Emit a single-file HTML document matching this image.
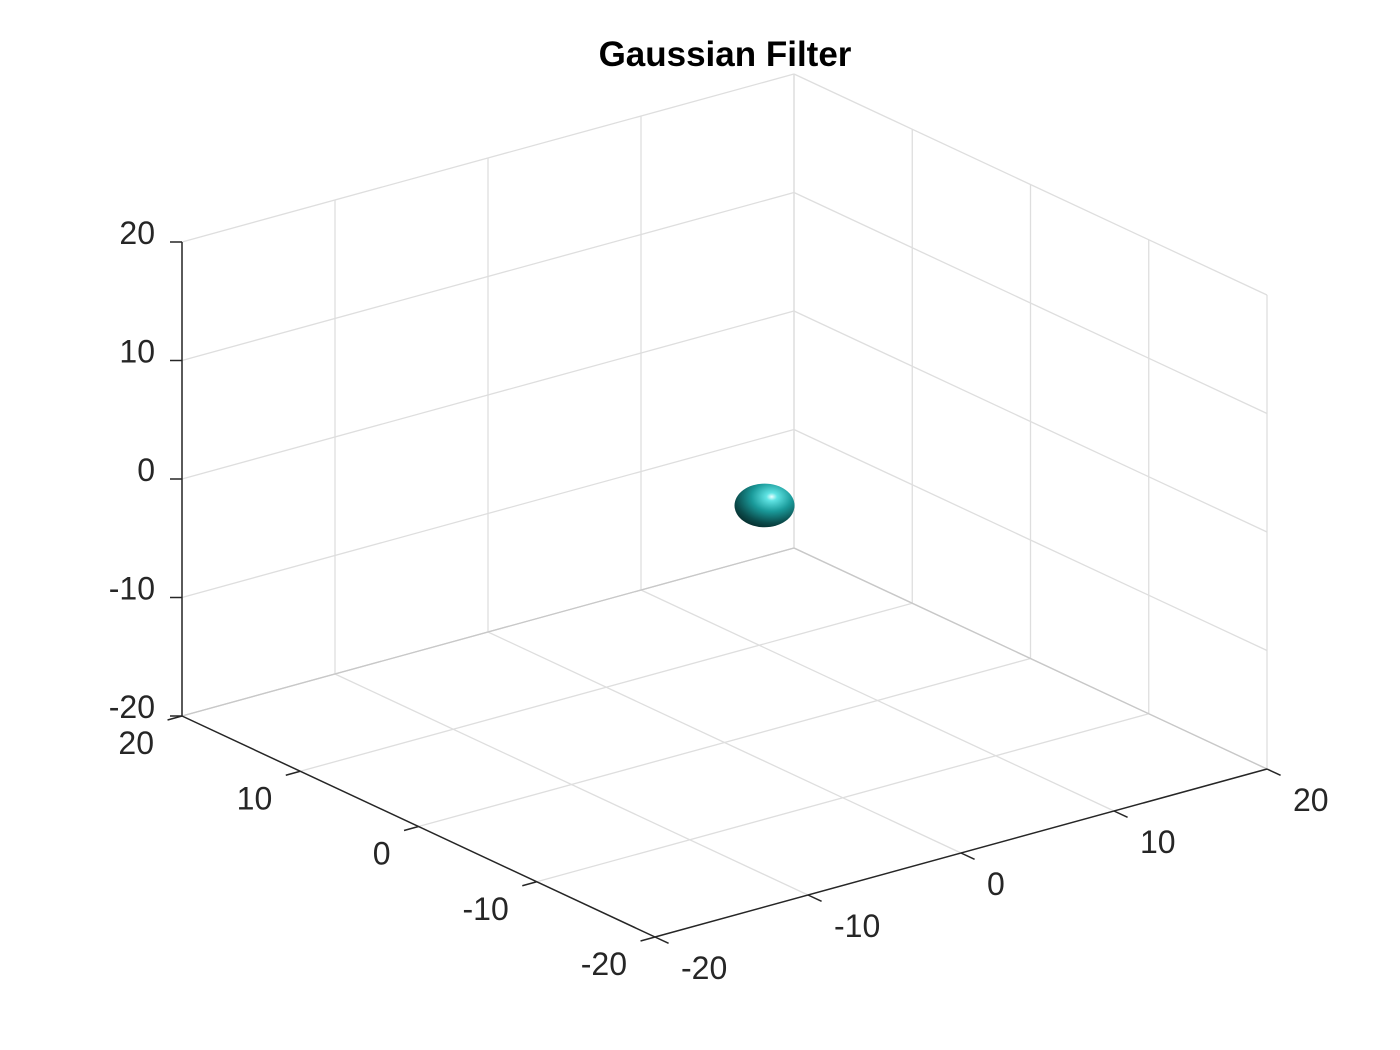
<!DOCTYPE html>
<html><head><meta charset="utf-8"><title>Gaussian Filter</title>
<style>
html,body{margin:0;padding:0;background:#fff;width:1400px;height:1050px;overflow:hidden}
svg{display:block;font-family:"Liberation Sans",Arial,sans-serif}
</style></head>
<body>
<svg id="chart" width="1400" height="1050" viewBox="0 0 1400 1050">
<defs>
<radialGradient id="sph" cx="0.62" cy="0.3" r="0.75">
<stop offset="0" stop-color="#e8ffff"/>
<stop offset="0.12" stop-color="#5fe3e3"/>
<stop offset="0.45" stop-color="#1a9a9a"/>
<stop offset="0.8" stop-color="#0b4c4c"/>
<stop offset="1" stop-color="#062c2c"/>
</radialGradient>
</defs>
<text x="725" y="66" text-anchor="middle" font-size="35" font-weight="bold" fill="#000">Gaussian Filter</text>
<g id="grid"></g>
<g id="axes"></g>
<g id="marks"></g>
</svg>
<script>
const xTicks = [-20, -10, 0, 10, 20];
const yTicks = [-20, -10, 0, 10, 20];
const zTicks = [-20, -10, 0, 10, 20];
const xTickLabels = ["-20", "-10", "0", "10", "20"];
const yTickLabels = ["-20", "-10", "0", "10", "20"];
const zTickLabels = ["-20", "-10", "0", "10", "20"];
const sphereCenter = [1.65, -1.25, 0];
const sphereRadius = [1.9, 1.9, 1.85];

const NS = "http://www.w3.org/2000/svg";
const O = [655, 937];
const DU = [15.3, -4.2], DV = [-11.825, -5.525], DZ = -11.85;
function P(u, v, z) {
  return [O[0] + (u + 20) * DU[0] + (v + 20) * DV[0],
          O[1] + (u + 20) * DU[1] + (v + 20) * DV[1] + (z + 20) * DZ];
}
function line(g, a, b, col, w, name) {
  const l = document.createElementNS(NS, "line");
  l.setAttribute("x1", a[0]); l.setAttribute("y1", a[1]);
  l.setAttribute("x2", b[0]); l.setAttribute("y2", b[1]);
  l.setAttribute("stroke", col); l.setAttribute("stroke-width", w);
  
  
  g.appendChild(l);
}
function text(g, p, s, anchor, name) {
  const t = document.createElementNS(NS, "text");
  t.setAttribute("x", p[0]); t.setAttribute("y", p[1]);
  t.setAttribute("text-anchor", anchor);
  t.setAttribute("font-size", "32"); t.setAttribute("fill", "#262626");
  t.textContent = s;
  
  
  g.appendChild(t);
}
const grid = document.getElementById("grid");
const axes = document.getElementById("axes");
const marks = document.getElementById("marks");
const gc = "#dedede";
xTicks.forEach(u => line(grid, P(u, -20, -20), P(u, 20, -20), gc, 1.3, "floor-grid-u"));
yTicks.forEach(v => line(grid, P(-20, v, -20), P(20, v, -20), gc, 1.3, "floor-grid-v"));
xTicks.forEach(u => line(grid, P(u, 20, -20), P(u, 20, 20), gc, 1.3, "left-wall-grid-u"));
zTicks.forEach(z => line(grid, P(-20, 20, z), P(20, 20, z), gc, 1.3, "left-wall-grid-z"));
yTicks.forEach(v => line(grid, P(20, v, -20), P(20, v, 20), gc, 1.3, "right-wall-grid-v"));
zTicks.forEach(z => line(grid, P(20, -20, z), P(20, 20, z), gc, 1.3, "right-wall-grid-z"));
line(grid, P(20, 20, -20), P(-20, 20, -20), "#c8c8c8", 1.3, "floor-back-edge-left");
line(grid, P(20, 20, -20), P(20, -20, -20), "#c8c8c8", 1.3, "floor-back-edge-right");

const ac = "#262626";
line(axes, P(-20, 20, -20), P(-20, 20, 20), ac, 1.5, "z-axis-line");
zTicks.forEach((z, i) => {
  const p = P(-20, 20, z);
  line(axes, p, [p[0] - 12, p[1]], ac, 1.5, "z-tick");
  text(axes, [p[0] - 27, p[1] + 2], zTickLabels[i], "end", "z-tick-label");
});
line(axes, P(-20, 20, -20), P(-20, -20, -20), ac, 1.5, "y-axis-line");
yTicks.forEach((v, i) => {
  const p = P(-20, v, -20);
  const L = 15 / Math.hypot(DU[0], DU[1]);
  line(axes, p, [p[0] - DU[0] * L, p[1] - DU[1] * L], ac, 1.5, "y-tick");
  text(axes, [p[0] - 28, p[1] + 38], yTickLabels[i], "end", "y-tick-label");
});
line(axes, P(-20, -20, -20), P(20, -20, -20), ac, 1.5, "x-axis-line");
xTicks.forEach((u, i) => {
  const p = P(u, -20, -20);
  const L = 15 / Math.hypot(DV[0], DV[1]);
  line(axes, p, [p[0] - DV[0] * L, p[1] - DV[1] * L], ac, 1.5, "x-tick");
  text(axes, [p[0] + 26, p[1] + 42], xTickLabels[i], "start", "x-tick-label");
});
const c = P(sphereCenter[0], sphereCenter[1], sphereCenter[2]);
const rx = sphereRadius[0] * 15.8, ry = sphereRadius[2] * 11.8;
const e = document.createElementNS(NS, "ellipse");
e.setAttribute("cx", c[0]); e.setAttribute("cy", c[1]);
e.setAttribute("rx", rx); e.setAttribute("ry", ry);
e.setAttribute("fill", "url(#sph)");


marks.appendChild(e);
</script>
</body></html>
